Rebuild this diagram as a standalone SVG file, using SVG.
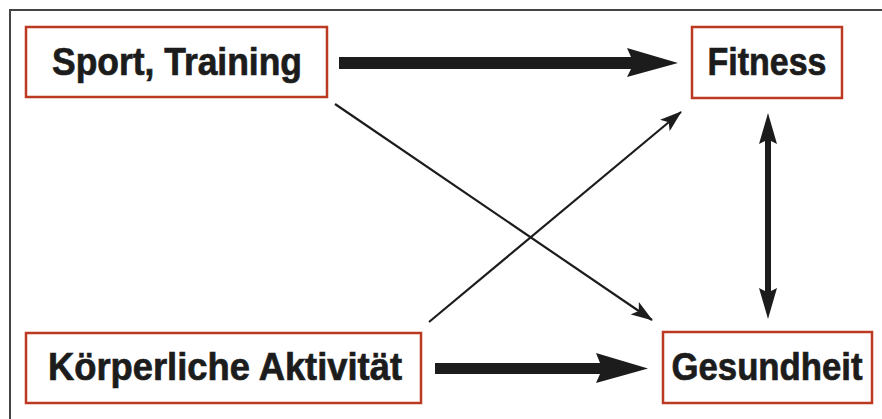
<svg xmlns="http://www.w3.org/2000/svg" width="882" height="419" viewBox="0 0 882 419">
<defs>
<style>
.box{fill:#fff;stroke:#bd3a22;stroke-width:2.5}
.lbl{font-family:"Liberation Sans",Arial,sans-serif;font-weight:bold;font-size:38px;fill:#1c1c1c;stroke:#1c1c1c;stroke-width:0.7;text-anchor:middle}
.thin{stroke:#1c1c1c;stroke-width:2.2;fill:none}
.thick{fill:#1c1c1c}
</style>
<marker id="ah" viewBox="0 0 22 15" refX="21" refY="7.5" markerWidth="22" markerHeight="15" markerUnits="userSpaceOnUse" orient="auto">
<path d="M0,0 L22,7.5 L0,15 L5,7.5 Z" fill="#1c1c1c"/>
</marker>
</defs>
<rect x="0" y="0" width="882" height="419" fill="#fff"/>
<rect x="10" y="10" width="900" height="500" fill="none" stroke="#444" stroke-width="2"/>
<g id="sport">
<rect class="box" x="26" y="27" width="301" height="70"/>
<text class="lbl" x="177" y="75" textLength="250" lengthAdjust="spacingAndGlyphs">Sport, Training</text>
</g>
<g id="fitness">
<rect class="box" x="692" y="27" width="150" height="71"/>
<text class="lbl" x="767" y="75" textLength="119" lengthAdjust="spacingAndGlyphs">Fitness</text>
</g>
<g id="koerper">
<rect class="box" x="26" y="333" width="395" height="70"/>
<text class="lbl" x="225" y="380" textLength="354" lengthAdjust="spacingAndGlyphs">Körperliche Aktivität</text>
</g>
<g id="gesundheit">
<rect class="box" x="663" y="332" width="209" height="71"/>
<text class="lbl" x="767" y="380" textLength="191" lengthAdjust="spacingAndGlyphs">Gesundheit</text>
</g>
<g id="connectors">
<path class="thick" d="M339,57 L631,57 L627,48 L678,63 L627,77 L631,69 L339,69 Z"/>
<path class="thick" d="M435,363 L600,363 L596,353 L648,368.5 L596,383 L600,374 L435,374 Z"/>
<line class="thin" x1="335" y1="104" x2="652" y2="320" marker-end="url(#ah)"/>
<line class="thin" x1="429" y1="322" x2="681" y2="112" marker-end="url(#ah)"/>
<path class="thick" d="M768,113 L777,144 L771,141 L771,291 L777,288 L768,319 L759,288 L765,291 L765,141 L759,144 Z"/>
</g>
</svg>
